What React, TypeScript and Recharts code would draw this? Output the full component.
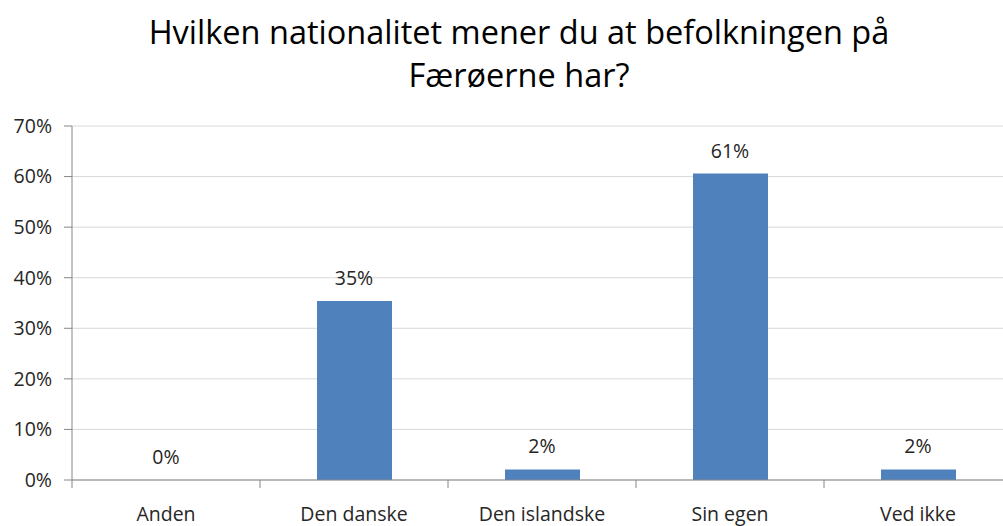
import { ComposedChart, Bar, Line, XAxis, YAxis, CartesianGrid, LabelList } from 'recharts'

const categories = ['Anden', 'Den danske', 'Den islandske', 'Sin egen', 'Ved ikke']
const shares = [0, 35.4, 2.1, 60.6, 2.1]
const yTicks = [0, 10, 20, 30, 40, 50, 60, 70]
const titleLines = ['Hvilken nationalitet mener du at befolkningen på', 'Færøerne har?']

const data = categories.map((name, i) => ({ name, value: shares[i] }))

const FONT = '"Open Sans", "Noto Sans", sans-serif'
const TEXT_SIZE = 19.5
const CHART_W = 1020
const PLOT_LEFT = 72
const PLOT_RIGHT = 8
const BAND = (CHART_W - PLOT_LEFT - PLOT_RIGHT) / categories.length

// tick marks sit between categories, like the original spreadsheet chart
function CategoryTick(props: any) {
  const { x, y, payload, index } = props
  const axisY = y - 8
  return (
    <g>
      <line x1={x - BAND / 2} y1={axisY} x2={x - BAND / 2} y2={axisY + 8} stroke="#868686" />
      {index === categories.length - 1 && (
        <line x1={x + BAND / 2} y1={axisY} x2={x + BAND / 2} y2={axisY + 8} stroke="#868686" />
      )}
      <text x={x} y={axisY + 36} textAnchor="middle" dominantBaseline="middle" fontSize={TEXT_SIZE} fill="#262626" fontFamily={FONT}>
        {payload.value}
      </text>
    </g>
  )
}

export default function App() {
  return (
    <div style={{ position: 'absolute', left: 0, top: 0, width: 1003, height: 526, overflow: 'hidden', background: '#fff', fontFamily: FONT }}>
      <div style={{ position: 'absolute', left: 0, top: 10, width: 1038, textAlign: 'center', fontSize: 32.5, lineHeight: '43px', color: '#000' }}>
        {titleLines.map((t) => (
          <div key={t}>{t}</div>
        ))}
      </div>
      <ComposedChart
        width={CHART_W}
        height={526}
        data={data}
        margin={{ top: 126, right: PLOT_RIGHT, left: 12, bottom: 0 }}
      >
        <CartesianGrid vertical={false} stroke="#d9d9d9" />
        <XAxis
          dataKey="name"
          height={46}
          tickLine={false}
          tickSize={8}
          tickMargin={0}
          axisLine={{ stroke: '#868686' }}
          tick={<CategoryTick />}
          interval={0}
        />
        <YAxis
          domain={[0, 70]}
          ticks={yTicks}
          width={60}
          tickSize={8}
          tickMargin={12}
          tickFormatter={(v) => `${v}%`}
          tick={{ fontSize: TEXT_SIZE, fill: '#262626', fontFamily: FONT }}
          axisLine={{ stroke: '#868686' }}
          tickLine={{ stroke: '#868686' }}
        />
        <Bar dataKey="value" fill="#4f81bd" barSize={75} isAnimationActive={false} />
        <Line dataKey="value" stroke="none" dot={false} activeDot={false} isAnimationActive={false}>
          <LabelList
            dataKey="value"
            position="top"
            offset={16}
            formatter={(v: any) => `${Math.round(v)}%`}
            style={{ fontSize: TEXT_SIZE, fill: '#262626', fontFamily: FONT }}
          />
        </Line>
      </ComposedChart>
    </div>
  )
}
